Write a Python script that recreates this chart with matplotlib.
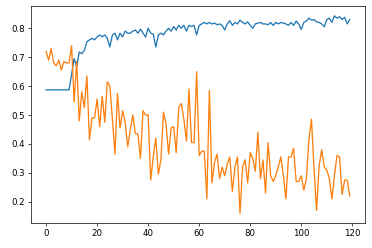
import numpy as np
import matplotlib
matplotlib.use("Agg")
import matplotlib.pyplot as plt

# values, one per epoch (0..119)
blue = [0.587, 0.587, 0.587, 0.587, 0.587, 0.587, 0.587, 0.587, 0.587, 0.587,
        0.64, 0.695, 0.667, 0.718, 0.712, 0.724, 0.753, 0.76, 0.765, 0.76,
        0.77, 0.777, 0.77, 0.777, 0.765, 0.735, 0.777, 0.783, 0.76, 0.783,
        0.77, 0.79, 0.783, 0.783, 0.79, 0.794, 0.783, 0.797, 0.783, 0.77,
        0.80, 0.783, 0.78, 0.735, 0.777, 0.783, 0.777, 0.79, 0.80, 0.79,
        0.806, 0.794, 0.81, 0.80, 0.81, 0.79, 0.81, 0.806, 0.81, 0.777,
        0.81, 0.815, 0.82, 0.815, 0.82, 0.815, 0.818, 0.812, 0.815, 0.81,
        0.794, 0.815, 0.826, 0.81, 0.82, 0.815, 0.828, 0.82, 0.815, 0.822,
        0.81, 0.80, 0.815, 0.818, 0.82, 0.815, 0.815, 0.812, 0.82, 0.81,
        0.82, 0.815, 0.82, 0.818, 0.815, 0.81, 0.82, 0.81, 0.825, 0.815,
        0.796, 0.82, 0.825, 0.835, 0.828, 0.83, 0.822, 0.82, 0.815, 0.805,
        0.83, 0.835, 0.82, 0.843, 0.835, 0.84, 0.83, 0.838, 0.815, 0.83]

orange = [0.72, 0.69, 0.73, 0.68, 0.67, 0.69, 0.655, 0.685, 0.68, 0.68,
          0.74, 0.545, 0.685, 0.48, 0.58, 0.525, 0.635, 0.415, 0.49, 0.49,
          0.555, 0.46, 0.565, 0.475, 0.615, 0.60, 0.485, 0.365, 0.575, 0.455,
          0.515, 0.475, 0.39, 0.45, 0.50, 0.435, 0.435, 0.35, 0.515, 0.50,
          0.50, 0.275, 0.355, 0.42, 0.295, 0.345, 0.51, 0.47, 0.365, 0.455,
          0.46, 0.37, 0.525, 0.54, 0.485, 0.41, 0.59, 0.405, 0.405, 0.65,
          0.36, 0.375, 0.375, 0.21, 0.585, 0.265, 0.335, 0.365, 0.28, 0.32,
          0.29, 0.33, 0.355, 0.235, 0.32, 0.355, 0.16, 0.32, 0.345, 0.265,
          0.37, 0.35, 0.305, 0.44, 0.28, 0.345, 0.23, 0.405, 0.29, 0.27,
          0.29, 0.32, 0.355, 0.29, 0.21, 0.355, 0.355, 0.385, 0.27, 0.27,
          0.29, 0.24, 0.28, 0.415, 0.485, 0.315, 0.17, 0.325, 0.38, 0.32,
          0.31, 0.28, 0.21, 0.29, 0.36, 0.355, 0.225, 0.275, 0.275, 0.22]

fig = plt.figure(figsize=(6, 4), dpi=62)
plt.subplots_adjust(left=0.083, right=0.981, top=0.976, bottom=0.10)
plt.plot(blue)
plt.plot(orange)
plt.savefig("out.png", dpi=62)
